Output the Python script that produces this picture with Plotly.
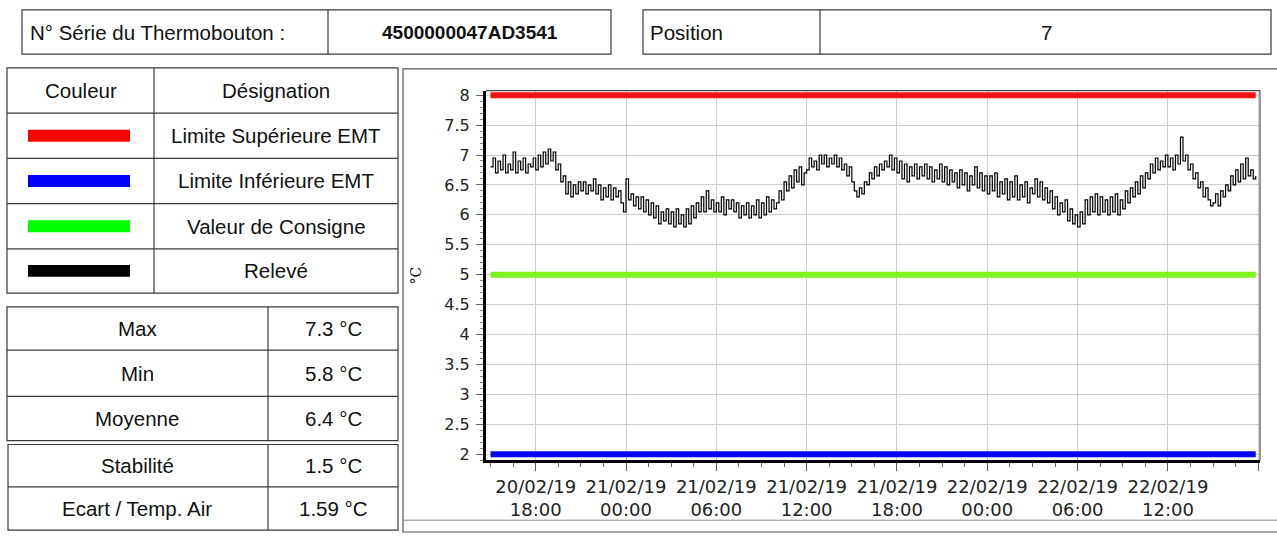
import plotly.graph_objects as go
import pandas as pd

W, H = 1277, 537

# ---------------- data ----------------
header_labels = ["N° Série du Thermobouton :", "4500000047AD3541", "Position", "7"]
legend_headers = ["Couleur", "Désignation"]
legend_names = ["Limite Supérieure EMT", "Limite Inférieure EMT", "Valeur de Consigne", "Relevé"]
legend_colors = ["#ff0000", "#0000ff", "#00ff00", "#000000"]
stat_names = ["Max", "Min", "Moyenne", "Stabilité", "Ecart / Temp. Air"]
stat_values = ["7.3 °C", "5.8 °C", "6.4 °C", "1.5 °C", "1.59 °C"]

upper_limit = 8.0
lower_limit = 2.0
setpoint = 5.0
chart_colors = {"upper": "#f21212", "lower": "#0505f0", "setpoint": "#80f01e", "reading": "#000000"}

start_time = "2019-02-20 15:00"
sample_step = "10min"
y_title = "°C"

# readings, 6 per hour (10 min), from 20/02/19 15:00 to 22/02/19 17:50
readings = [
    # 20/02 15h .. 23h
    6.80, 6.95, 6.70, 6.90, 6.75, 7.00,
    6.70, 6.85, 6.75, 7.05, 6.70, 6.90,
    6.75, 6.95, 6.70, 6.85, 6.80, 6.95,
    6.75, 7.00, 6.80, 7.05, 6.85, 7.10,
    6.90, 7.05, 6.75, 6.85, 6.55, 6.65,
    6.35, 6.55, 6.30, 6.50, 6.35, 6.55,
    6.40, 6.55, 6.35, 6.50, 6.40, 6.60,
    6.35, 6.50, 6.25, 6.45, 6.30, 6.50,
    6.25, 6.45, 6.30, 6.40, 6.20, 6.05,
    # 21/02 00h .. 23h
    6.60, 6.25, 6.35, 6.15, 6.30, 6.10,
    6.30, 6.05, 6.25, 6.00, 6.20, 5.95,
    6.15, 5.85, 6.05, 5.90, 6.10, 5.85,
    6.05, 5.80, 6.10, 5.85, 6.00, 5.80,
    6.10, 5.85, 6.15, 5.95, 6.20, 6.05,
    6.30, 6.05, 6.40, 6.10, 6.25, 6.05,
    6.20, 6.05, 6.30, 6.00, 6.25, 6.10,
    6.25, 6.05, 6.20, 5.95, 6.15, 6.00,
    6.20, 5.95, 6.15, 6.00, 6.25, 5.95,
    6.20, 6.00, 6.30, 6.05, 6.25, 6.10,
    6.20, 6.40, 6.25, 6.55, 6.40, 6.65,
    6.45, 6.75, 6.55, 6.80, 6.50, 6.70,
    6.75, 6.95, 6.80, 6.90, 6.75, 7.00,
    6.85, 7.00, 6.80, 6.95, 6.85, 7.00,
    6.80, 6.95, 6.75, 6.85, 6.65, 6.80,
    6.55, 6.40, 6.30, 6.45, 6.35, 6.55,
    6.50, 6.70, 6.60, 6.80, 6.65, 6.85,
    6.75, 6.90, 6.80, 7.00, 6.75, 6.95,
    6.70, 6.90, 6.60, 6.85, 6.55, 6.80,
    6.65, 6.85, 6.60, 6.80, 6.65, 6.85,
    6.60, 6.80, 6.55, 6.75, 6.60, 6.85,
    6.55, 6.80, 6.50, 6.75, 6.55, 6.70,
    6.45, 6.75, 6.50, 6.70, 6.40, 6.65,
    6.50, 6.80, 6.45, 6.70, 6.40, 6.65,
    # 22/02 00h .. 17h
    6.35, 6.65, 6.40, 6.70, 6.30, 6.55,
    6.35, 6.60, 6.25, 6.55, 6.30, 6.65,
    6.25, 6.50, 6.30, 6.55, 6.20, 6.45,
    6.35, 6.60, 6.30, 6.55, 6.25, 6.45,
    6.20, 6.40, 6.10, 6.30, 6.00, 6.20,
    6.05, 6.25, 5.90, 6.10, 5.85, 6.00,
    5.80, 6.05, 5.85, 6.25, 6.00, 6.30,
    6.05, 6.35, 6.00, 6.30, 6.05, 6.25,
    6.00, 6.30, 6.05, 6.35, 6.00, 6.25,
    6.10, 6.40, 6.20, 6.45, 6.30, 6.55,
    6.35, 6.65, 6.45, 6.70, 6.60, 6.85,
    6.70, 6.95, 6.75, 6.90, 6.80, 7.00,
    6.80, 6.95, 6.75, 7.00, 6.85, 7.30,
    6.90, 7.00, 6.75, 6.85, 6.60, 6.70,
    6.45, 6.55, 6.30, 6.45, 6.25, 6.15,
    6.20, 6.35, 6.15, 6.40, 6.30, 6.50,
    6.40, 6.65, 6.50, 6.75, 6.55, 6.85,
    6.60, 6.95, 6.65, 6.75, 6.60, 6.65,
]

times = pd.date_range(start=start_time, periods=len(readings), freq=sample_step)

# ---------------- helpers (pixel -> paper) ----------------
def px(x):
    return x / W


def py(y):
    return 1 - y / H


shapes = []


def line(x0, y0, x1, y1, color="#3a3a3a", width=1.2):
    shapes.append(dict(type="line", xref="paper", yref="paper",
                       x0=px(x0), y0=py(y0), x1=px(x1), y1=py(y1),
                       line=dict(color=color, width=width)))


def rect(x0, y0, x1, y1, color="#3a3a3a", width=1.2, fill=None):
    shapes.append(dict(type="rect", xref="paper", yref="paper",
                       x0=px(x0), y0=py(y0), x1=px(x1), y1=py(y1),
                       line=dict(color=color, width=width),
                       fillcolor=fill if fill else "rgba(0,0,0,0)"))


annotations = []
TFONT = "Liberation Sans, Arial, sans-serif"
TSIZE = 20.5


def text(x, y, s, anchor="center", size=TSIZE, bold=False):
    annotations.append(dict(xref="paper", yref="paper", x=px(x), y=py(y),
                            text=f"<b>{s}</b>" if bold else s, showarrow=False,
                            xanchor=anchor, yanchor="middle",
                            font=dict(family=TFONT, size=size, color="#111111")))


# ---------------- header boxes ----------------
rect(22, 5, 611, 50)
line(328, 5, 328, 50)
rect(643, 5, 1271, 50)
line(820, 5, 820, 50)
text(28, 28, header_labels[0], anchor="left")
text(470, 28, header_labels[1], bold=True, size=19)
text(648, 28, header_labels[2], anchor="left")
text(1046, 28, header_labels[3])

# ---------------- legend table ----------------
leg_rows = [64, 110, 156, 202, 248, 293]
rect(7, leg_rows[0], 398, leg_rows[-1])
line(154, leg_rows[0], 154, leg_rows[-1])
for yy in leg_rows[1:-1]:
    line(7, yy, 398, yy)
text(81, (leg_rows[0] + leg_rows[1]) / 2, legend_headers[0])
text(276, (leg_rows[0] + leg_rows[1]) / 2, legend_headers[1])
for i, (name, col) in enumerate(zip(legend_names, legend_colors)):
    yc = (leg_rows[i + 1] + leg_rows[i + 2]) / 2
    rect(28, yc - 6, 130, yc + 6, color=col, width=0, fill=col)
    text(276, yc, name)

# ---------------- stats tables ----------------
st1 = [307, 351, 398, 443]
st2 = [447, 490, 534]
rect(7, st1[0], 398, st1[-1])
line(268, st1[0], 268, st1[-1])
for yy in st1[1:-1]:
    line(7, yy, 398, yy)
rect(8, st2[0], 398, st2[-1])
line(268, st2[0], 268, st2[-1])
line(8, st2[1], 398, st2[1])
rows_y = [(st1[i] + st1[i + 1]) / 2 for i in range(3)] + [(st2[i] + st2[i + 1]) / 2 for i in range(2)]
for yc, n, v in zip(rows_y, stat_names, stat_values):
    text(137, yc, n)
    text(333, yc, v)

# ---------------- chart frame ----------------
rect(403, 65, 1282, 536, color="#555555", width=1.2)
line(403, 524, 1282, 524, color="#888888", width=1)
# plot top / right border
line(486, 87, 1260, 87, color="#444444", width=1.2)
line(1260, 87, 1260, 463, color="#555555", width=1.2)

text(416, 275, y_title, size=14)
annotations[-1]["textangle"] = -90
annotations[-1]["font"]["family"] = "DejaVu Serif, serif"

# ---------------- traces ----------------
fig = go.Figure()
x_span = [times[0], times[-1]]
fig.add_trace(go.Scatter(x=x_span, y=[upper_limit, upper_limit], mode="lines",
                         line=dict(color=chart_colors["upper"], width=6), hoverinfo="skip"))
fig.add_trace(go.Scatter(x=x_span, y=[setpoint, setpoint], mode="lines",
                         line=dict(color=chart_colors["setpoint"], width=6), hoverinfo="skip"))
fig.add_trace(go.Scatter(x=x_span, y=[lower_limit, lower_limit], mode="lines",
                         line=dict(color=chart_colors["lower"], width=6), hoverinfo="skip"))
fig.add_trace(go.Scatter(x=times, y=readings, mode="lines",
                         line=dict(color=chart_colors["reading"], width=1.2, shape="hv")))

AFONT = "DejaVu Sans, Verdana, sans-serif"
fig.update_layout(
    width=W, height=H, autosize=False,
    margin=dict(l=0, r=0, t=0, b=0),
    paper_bgcolor="white", plot_bgcolor="white",
    showlegend=False,
    shapes=shapes, annotations=annotations,
    xaxis=dict(
        type="date", domain=[px(486), px(1260)],
        range=["2019-02-20 14:42", "2019-02-22 18:07"],
        tick0="2019-02-20 00:00", dtick=6 * 3600 * 1000,
        tickformat="%d/%m/%y<br>%H:%M",
        ticks="outside", ticklen=8, tickcolor="#555555", tickwidth=1,
        tickfont=dict(family=AFONT, size=18, color="#222222"),
        showgrid=True, gridcolor="#cccccc", gridwidth=1,
        showline=True, linecolor="black", linewidth=3,
        zeroline=False,
        minor=dict(dtick=int(1.5 * 3600 * 1000), ticks="outside", ticklen=4,
                   tickcolor="#666666", showgrid=False),
    ),
    yaxis=dict(
        domain=[py(463), py(87)],
        range=[1.9, 8.077],
        tick0=0, dtick=0.5,
        ticks="outside", ticklen=7, tickcolor="#666666", tickwidth=1,
        ticklabelstandoff=3,
        tickfont=dict(family=AFONT, size=16, color="#222222"),
        showgrid=True, gridcolor="#cccccc", gridwidth=1,
        showline=True, linecolor="black", linewidth=3,
        zeroline=False,
        minor=dict(dtick=0.1, ticks="outside", ticklen=3, tickcolor="#888888", showgrid=False),
    ),
)

fig.write_html("out.html", config={"displayModeBar": False},
               post_script="document.body.style.margin='0';")
